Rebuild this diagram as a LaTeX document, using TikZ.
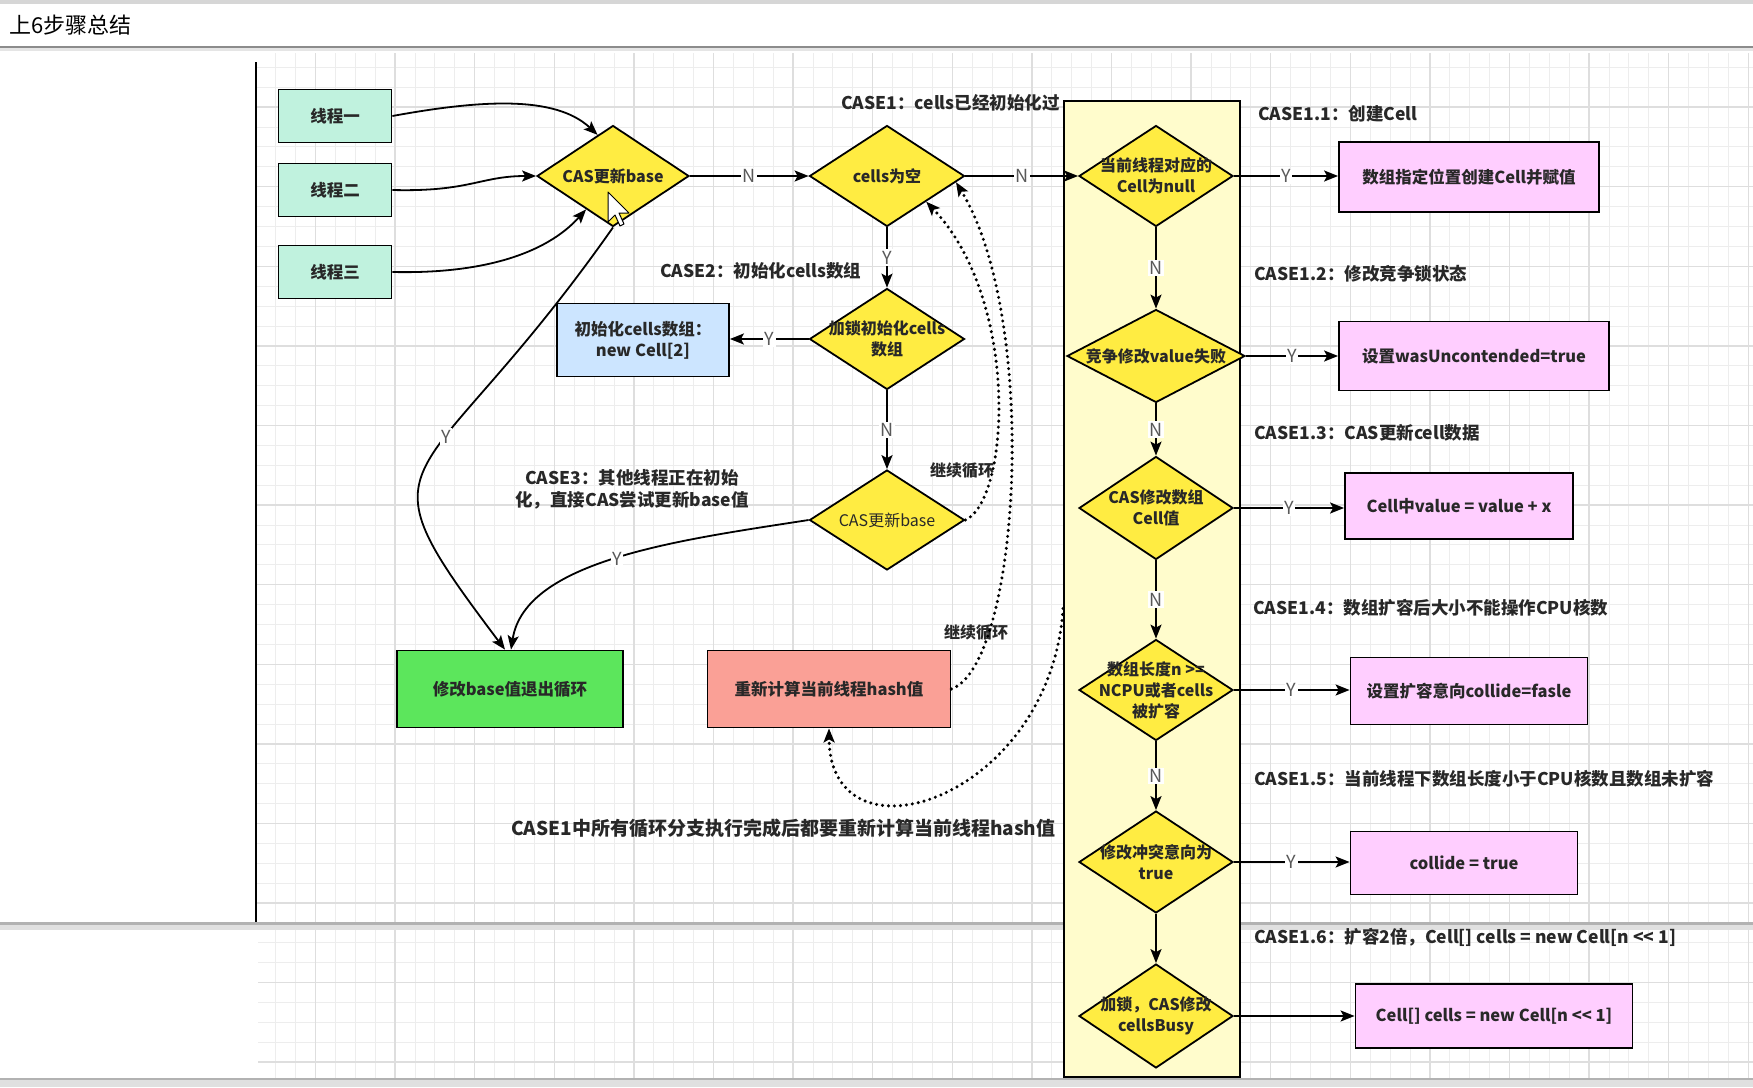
\documentclass[tikz,border=0pt]{standalone}
\usepackage{fontspec}
\setmainfont{Noto Sans CJK SC}
\usetikzlibrary{shapes.geometric,arrows.meta,calc}
\definecolor{mint}{RGB}{192,242,222}
\definecolor{dyel}{RGB}{255,236,66}
\definecolor{laneyel}{RGB}{255,252,204}
\definecolor{bluebox}{RGB}{204,229,255}
\definecolor{greenbox}{RGB}{92,230,92}
\definecolor{redbox}{RGB}{250,160,150}
\definecolor{pinkbox}{RGB}{255,206,255}
\definecolor{txt}{RGB}{40,40,40}
\begin{document}
\begin{tikzpicture}[x=1pt,y=-1pt,
  box/.style={rectangle, draw=black, line width=1.8pt, inner sep=0pt, align=center, text=txt,
    font=\fontsize{16.5}{21}\selectfont\bfseries},
  dia/.style={diamond, draw=black, line width=1.8pt, fill=dyel, inner sep=0pt},
  dtext/.style={align=center, text=txt, inner sep=0pt, font=\fontsize{16}{21}\selectfont\bfseries},
  arr/.style={line width=1.8pt, -{Stealth[length=14pt,width=11pt,inset=3pt]}},
  dots/.style={line width=3.4pt, dash pattern=on 0pt off 6pt, line cap=round,
    -{Stealth[length=14pt,width=11pt,inset=3pt]}},
  lbl/.style={fill=white, inner sep=1.5pt, text=black!65, font=\fontsize{18}{18}\selectfont},
  case/.style={anchor=west, text=txt, inner sep=0pt, font=\fontsize{17.5}{22}\selectfont\bfseries},
  gridminor/.style={draw=black!7, line width=0.8pt},
  gridmajor/.style={draw=black!13, line width=1.4pt}]
\useasboundingbox (0,0) rectangle (1753,1087);
\fill[white] (0,0) rectangle (1753,1087);
% window chrome
\fill[black!16] (0,0) rectangle (1753,4);
\fill[black!45] (0,45.5) rectangle (1753,48);
\fill[black!10] (0,48) rectangle (1753,51);
\node[anchor=west, inner sep=0pt, font=\fontsize{22}{22}\selectfont] (title) at (9,25) {上6步骤总结};
% grid upper
\begin{scope}
\clip (257,53) rectangle (1753,922);
\foreach \x in {255.7,275.6,...,1760} \draw[gridminor] (\x,53) -- (\x,922);
\foreach \y in {47.3,67.2,...,930} \draw[gridminor] (257,\y) -- (1753,\y);
\foreach \x in {235.8,315.4,...,1760} \draw[gridmajor] (\x,53) -- (\x,922);
\foreach \y in {27.4,107,...,930} \draw[gridmajor] (257,\y) -- (1753,\y);
\end{scope}
% grid lower
\begin{scope}
\clip (258,930) rectangle (1753,1079);
\foreach \x in {255.7,275.6,...,1760} \draw[gridminor] (\x,930) -- (\x,1079);
\foreach \y in {922.7,942.6,...,1085} \draw[gridminor] (258,\y) -- (1753,\y);
\foreach \x in {235.8,315.4,...,1760} \draw[gridmajor] (\x,930) -- (\x,1079);
\foreach \y in {902.8,982.4,...,1085} \draw[gridmajor] (258,\y) -- (1753,\y);
\end{scope}
\draw[black, line width=1.6pt] (256,62) -- (256,922);
% splice and bottom
\fill[black!30] (0,922) rectangle (1753,925);
\fill[black!12] (0,925) rectangle (1753,930);
\fill[black!12] (0,1079) rectangle (1753,1087);
\fill[black!30] (0,1078) rectangle (1753,1080);

% lane
\node[rectangle, draw=black, line width=1.8pt, fill=laneyel, minimum width=176, minimum height=976, inner sep=0pt] (lane) at (1152,589) {};

% thread boxes
\node[box, fill=mint, minimum width=113, minimum height=53] (t1) at (335,116) {线程一};
\node[box, fill=mint, minimum width=113, minimum height=53] (t2) at (335,190) {线程二};
\node[box, fill=mint, minimum width=113, minimum height=53] (t3) at (335,272) {线程三};

% diamonds
\node[dia, minimum width=152, minimum height=101, label={[dtext]center:CAS更新base}] (d1) at (613,176) {};
\node[dia, minimum width=155, minimum height=101, label={[dtext]center:cells为空}] (d2) at (887,176) {};
\node[dia, minimum width=155, minimum height=101, label={[dtext]center:{加锁初始化cells\\数组}}] (d9) at (887,339) {};
\node[dia, minimum width=155, minimum height=100, label={[dtext, font=\fontsize{16}{21}\selectfont]center:CAS更新base}] (d10) at (887,520) {};
\node[dia, minimum width=154, minimum height=101, label={[dtext]center:{当前线程对应的\\Cell为null}}] (d3) at (1156,176) {};
\node[dia, minimum width=178, minimum height=93, label={[dtext]center:竞争修改value失败}] (d4) at (1156,356) {};
\node[dia, minimum width=154, minimum height=103, label={[dtext]center:{CAS修改数组\\Cell值}}] (d5) at (1156,508) {};
\node[dia, minimum width=154, minimum height=101, label={[dtext]center:{数组长度n >=\\NCPU或者cells\\被扩容}}] (d6) at (1156,690) {};
\node[dia, minimum width=154, minimum height=102, label={[dtext]center:{修改冲突意向为\\true}}] (d7) at (1156,862) {};
\node[dia, minimum width=154, minimum height=104, label={[dtext]center:{加锁，CAS修改\\cellsBusy}}] (d8) at (1156,1016) {};

% other boxes
\node[box, fill=bluebox, minimum width=172, minimum height=73] (blue) at (643,340) {初始化cells数组：\\new Cell[2]};
\node[box, fill=greenbox, minimum width=226, minimum height=77] (green) at (510,689) {修改base值退出循环};
\node[box, fill=redbox, minimum width=243, minimum height=77] (red) at (829,689) {重新计算当前线程hash值};
\node[box, fill=pinkbox, minimum width=260, minimum height=70] (r1) at (1469,177) {数组指定位置创建Cell并赋值};
\node[box, fill=pinkbox, minimum width=270, minimum height=69] (r2) at (1474,356) {设置wasUncontended=true};
\node[box, fill=pinkbox, minimum width=228, minimum height=66] (r3) at (1459,506) {Cell中value = value + x};
\node[box, fill=pinkbox, minimum width=237, minimum height=67] (r4) at (1469,691) {设置扩容意向collide=fasle};
\node[box, fill=pinkbox, minimum width=227, minimum height=63] (r5) at (1464,863) {collide = true};
\node[box, fill=pinkbox, minimum width=277, minimum height=64] (r6) at (1494,1016) {Cell[] cells = new Cell[n <{}< 1]};

% labels
\node[case] (c1) at (841,103) {CASE1：cells已经初始化过};
\node[case] (c2) at (660,271) {CASE2：初始化cells数组};
\node[case, anchor=center, align=center] (c3) at (632,489) {CASE3：其他线程正在初始\\化，直接CAS尝试更新base值};
\node[case] (c11) at (1258,114) {CASE1.1：创建Cell};
\node[case] (c12) at (1254,274) {CASE1.2：修改竞争锁状态};
\node[case] (c13) at (1254,433) {CASE1.3：CAS更新cell数据};
\node[case] (c14) at (1253,608) {CASE1.4：数组扩容后大小不能操作CPU核数};
\node[case] (c15) at (1254,779) {CASE1.5：当前线程下数组长度小于CPU核数且数组未扩容};
\node[case] (c16) at (1254,937) {CASE1.6：扩容2倍，Cell[] cells = new Cell[n <{}< 1]};
\node[case, font=\fontsize{16}{20}\selectfont\bfseries] (loop1) at (930,470) {继续循环};
\node[case, font=\fontsize{16}{20}\selectfont\bfseries] (loop2) at (944,632) {继续循环};
\node[case, font=\fontsize{19}{22}\selectfont\bfseries] (note) at (511,828) {CASE1中所有循环分支执行完成后都要重新计算当前线程hash值};

% connectors from threads
\draw[arr] (t1.east) .. controls (480,100) and (555,95) .. ($(d1.north)!0.2!(d1.west)$);
\draw[arr] (t2.east) .. controls (470,192) and (480,176) .. (d1.west);
\draw[arr] (t3.east) .. controls (480,274) and (545,255) .. ($(d1.south)!0.35!(d1.west)$);
% main flow
\draw[arr] (d1.east) -- node[lbl]{N} (d2.west);
\draw[arr] (d2.east) -- node[lbl]{N} (d3.west);
\draw[arr] (d2.south) -- node[lbl]{Y} (d9.north);
\draw[arr] (d9.west) -- node[lbl]{Y} (d9.west -| blue.east);
\draw[arr] (d9.south) -- node[lbl]{N} (d10.north);
\draw[arr] (d1.south) .. controls (418,505) and (349,443) .. node[lbl, pos=0.4]{Y} ([xshift=-5]green.north);
\draw[arr] (d10.west) .. controls (680,540) and (525,560) .. node[lbl, pos=0.5]{Y} ([xshift=1]green.north);
% dotted loops
\draw[dots] (d10.east) .. controls (1010,500) and (1020,300) .. ($(d2.south)!0.5!(d2.east)$);
\draw[dots] (red.east) .. controls (1020,665) and (1040,320) .. ($(d2.east)!0.12!(d2.south)$);
\draw[dots] ($(lane.north west)!0.52!(lane.south west)$) .. controls (1050,800) and (830,870) .. (red.south);
% lane flow
\draw[arr] (d3.south) -- node[lbl]{N} (d4.north);
\draw[arr] (d4.south) -- node[lbl]{N} (d5.north);
\draw[arr] (d5.south) -- node[lbl]{N} (d6.north);
\draw[arr] (d6.south) -- node[lbl]{N} (d7.north);
\draw[arr] (d7.south) -- (d8.north);
% right branches
\draw[arr] (d3.east) -- node[lbl]{Y} (d3.east -| r1.west);
\draw[arr] (d4.east) -- node[lbl]{Y} (d4.east -| r2.west);
\draw[arr] (d5.east) -- node[lbl]{Y} (d5.east -| r3.west);
\draw[arr] (d6.east) -- node[lbl]{Y} (d6.east -| r4.west);
\draw[arr] (d7.east) -- node[lbl]{Y} (d7.east -| r5.west);
\draw[arr] (d8.east) -- (d8.east -| r6.west);
% mouse cursor
\draw[fill=white, line width=1pt, line join=round] (608,192) -- (608,222) -- (615,215) -- (620,226) -- (624,224) -- (619,213) -- (629,213) -- cycle;
\end{tikzpicture}
\end{document}
